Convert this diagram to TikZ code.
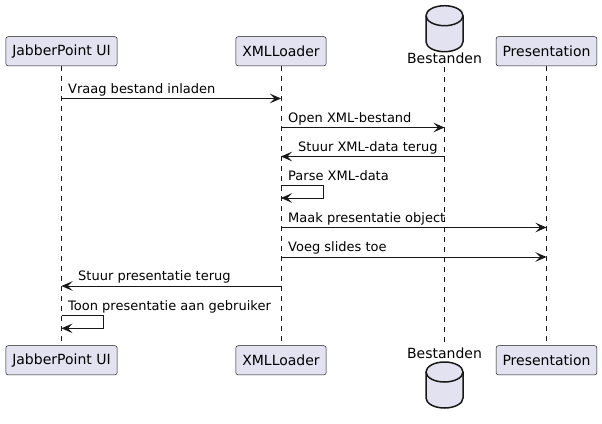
\documentclass[tikz,border=0pt]{standalone}
\usepackage{fontspec}
\setmainfont{DejaVu Sans}
\usepackage{tikz}
\usetikzlibrary{arrows.meta}
\definecolor{partfill}{HTML}{E2E2F0}
\definecolor{partline}{HTML}{181818}
\tikzset{part/.style={draw=partline, fill=partfill, line width=0.5pt, rounded corners=2.5pt,
    minimum height=29.3pt, inner xsep=6.5pt, font=\fontsize{14}{16}\selectfont},
  dblabel/.style={font=\fontsize{14}{16}\selectfont, anchor=base},
  dbline/.style={draw=partline, fill=partfill, line width=1.5pt},
  life/.style={draw=partline, line width=0.5pt, dash pattern=on 5pt off 5pt},
  msg/.style={draw=partline, line width=1pt, -{Stealth[length=11pt, width=9.5pt, inset=4.5pt]}},
  msglabel/.style={font=\fontsize{13}{15}\selectfont, anchor=base west, inner sep=0pt}}
\newcommand{\dbcyl}[1]{%
  \draw[dbline] ([xshift=-18.5pt, yshift=-10pt]#1) -- ++(0,-26pt)
    arc[start angle=180, end angle=360, x radius=18.5pt, y radius=10pt] -- ++(0,26pt)
    arc[start angle=0, end angle=180, x radius=18.5pt, y radius=10pt] -- cycle;
  \draw[partline, line width=1.5pt] ([xshift=-18.5pt, yshift=-10pt]#1)
    arc[start angle=180, end angle=360, x radius=18.5pt, y radius=10pt];}

\begin{document}
\begin{tikzpicture}[x=1pt, y=-1pt]
    \useasboundingbox (0,0) rectangle (602,423);
    \node[part] (ui) at (61.5, 51.3) {JabberPoint UI};
    \node[part] (xml) at (281, 51.3) {XMLLoader};
    \node[part] (pres) at (546.5, 51.3) {Presentation};
    \coordinate (dbtop) at (444.5, 5.7);
    \dbcyl{dbtop}
    \node[dblabel] (db) at (444.5, 63.5) {Bestanden};
    \node[part] (uib) at (61.5, 360.3) {JabberPoint UI};
    \node[part] (xmlb) at (281, 360.3) {XMLLoader};
    \node[part] (presb) at (546.5, 360.3) {Presentation};
    \node[dblabel] (dbb) at (444.5, 358) {Bestanden};
    \coordinate (dbbot) at (444.5, 362);
    \dbcyl{dbbot}
    \draw[life] (ui) -- (uib);
    \draw[life] (xml) -- (xmlb);
    \draw[life] (db) -- (dbb);
    \draw[life] (pres) -- (presb);
    \draw[msg] (ui |- 0,98.5) -- (xml |- 0,98.5);
    \node[msglabel] (m1) at (68, 93.2) {Vraag bestand inladen};
    \draw[msg] (xml |- 0,127.5) -- (db |- 0,127.5);
    \node[msglabel] (m2) at (288, 122.2) {Open XML-bestand};
    \draw[msg] (db |- 0,156.5) -- (xml |- 0,156.5);
    \node[msglabel] (m3) at (298, 151.2) {Stuur XML-data terug};
    \draw[msg] (xml |- 0,185.5) -- (323,185.5) -- (323,198) -- (xml |- 0,198);
    \node[msglabel] (m4) at (288, 180.2) {Parse XML-data};
    \draw[msg] (xml |- 0,227.5) -- (pres |- 0,227.5);
    \node[msglabel] (m5) at (288, 222.2) {Maak presentatie object};
    \draw[msg] (xml |- 0,257) -- (pres |- 0,257);
    \node[msglabel] (m6) at (288, 251.7) {Voeg slides toe};
    \draw[msg] (xml |- 0,286) -- (ui |- 0,286);
    \node[msglabel] (m7) at (78, 280.7) {Stuur presentatie terug};
    \draw[msg] (ui |- 0,315.7) -- (103,315.7) -- (103,328.3) -- (ui |- 0,328.3);
    \node[msglabel] (m8) at (68, 310.4) {Toon presentatie aan gebruiker};
  \end{tikzpicture}
\end{document}
